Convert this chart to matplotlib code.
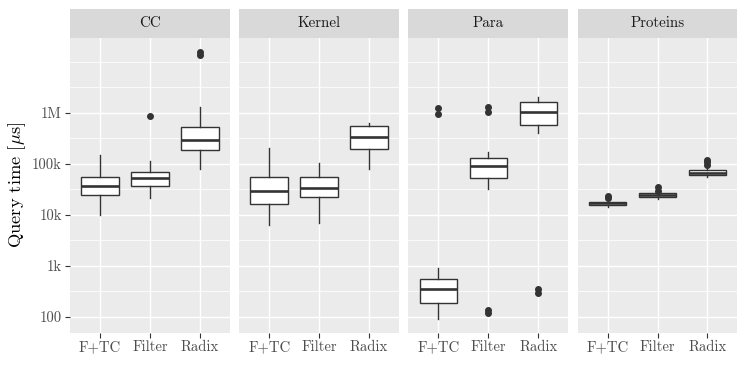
import numpy as np
import matplotlib
matplotlib.use('Agg')
import matplotlib.pyplot as plt
from matplotlib.ticker import FixedLocator, NullFormatter

# Facets and methods
panels = ['CC', 'Kernel', 'Para', 'Proteins']
methods = ['F+TC', 'Filter', 'Radix']

# Box statistics per panel (F+TC, Filter, Radix), query time in microseconds
whisker_lo = [[10e3, 22e3, 79e3], [6.3e3, 7.1e3, 81e3], [91, 33e3, 410e3], [14.2e3, 20.6e3, 55e3]]
quart_lo = [[24.5e3, 37e3, 187e3], [16.7e3, 22.5e3, 201e3], [186, 53e3, 592e3], [15.7e3, 22.9e3, 62e3]]
medians = [[37.6e3, 52e3, 296e3], [29.5e3, 34e3, 343e3], [360, 90e3, 1.06e6], [16.9e3, 24.7e3, 67e3]]
quart_hi = [[56e3, 71e3, 540e3], [56e3, 55e3, 556e3], [550, 133e3, 1.66e6], [18.2e3, 26.6e3, 77e3]]
whisker_hi = [[150e3, 116e3, 1.3e6], [203e3, 103e3, 645e3], [900, 174e3, 2.09e6], [19.5e3, 28e3, 83e3]]

# Outliers
outliers = [
    [[], [890e3], [15.9e6, 13.8e6]],
    [[], [], []],
    [[1.24e6, 0.97e6], [1.29e6, 1.05e6, 138, 121], [347, 302]],
    [[24.1e3, 21.1e3], [34.6e3, 30.2e3], [122e3, 107e3, 95e3]],
]

y_breaks = [1e2, 1e3, 1e4, 1e5, 1e6]
y_labels = ['100', '1k', '10k', '100k', '1M']

plt.rcParams['font.family'] = ['cmr10', 'DejaVu Serif']
plt.rcParams['mathtext.fontset'] = 'cm'
plt.rcParams['axes.unicode_minus'] = False
plt.rcParams['axes.formatter.use_mathtext'] = True

W, H = 747, 386
fig = plt.figure(figsize=(W / 100, H / 100), dpi=100)

panel_left = [70, 239.2, 408.4, 577.6]
panel_w = 159.8
top_px, bottom_px, strip_top = 37.7, 332.7, 9.3

dark = '#333333'
for k, name in enumerate(panels):
    x0 = panel_left[k]
    ax = fig.add_axes([x0 / W, 1 - bottom_px / H, panel_w / W, (bottom_px - top_px) / H])
    ax.set_facecolor('#EBEBEB')
    for s in ax.spines.values():
        s.set_visible(False)

    stats = []
    for j in range(3):
        stats.append(dict(med=medians[k][j], q1=quart_lo[k][j], q3=quart_hi[k][j],
                          whislo=whisker_lo[k][j], whishi=whisker_hi[k][j],
                          fliers=outliers[k][j]))
    ax.bxp(stats, positions=[1, 2, 3], widths=0.75, patch_artist=True,
           showcaps=False, manage_ticks=False,
           boxprops=dict(facecolor='white', edgecolor=dark, linewidth=1.0),
           medianprops=dict(color=dark, linewidth=1.9, solid_capstyle='butt'),
           whiskerprops=dict(color=dark, linewidth=1.0),
           flierprops=dict(marker='o', markersize=4, markerfacecolor=dark,
                           markeredgecolor=dark))

    ax.set_yscale('log')
    ax.set_ylim(10 ** 1.692, 10 ** 7.476)
    ax.set_xlim(0.4, 3.6)

    ax.set_xticks([1, 2, 3])
    ax.set_xticklabels(methods)
    ax.yaxis.set_major_locator(FixedLocator(y_breaks))
    ax.yaxis.set_minor_locator(FixedLocator([10 ** e for e in np.arange(1.5, 7.01, 0.5)]))
    ax.yaxis.set_minor_formatter(NullFormatter())
    if k == 0:
        ax.set_yticklabels(y_labels)
        ax.tick_params(axis='y', which='major', length=3.8, width=0.8, color=dark,
                       labelcolor='#4D4D4D', labelsize=10.6, pad=2)
    else:
        ax.tick_params(axis='y', which='major', length=0, labelleft=False)
    ax.tick_params(axis='y', which='minor', length=0)
    ax.tick_params(axis='x', length=3.8, width=0.8, color=dark,
                   labelcolor='#4D4D4D', labelsize=10.6, pad=2)

    ax.set_axisbelow(True)
    ax.grid(which='major', color='white', linewidth=1.07)
    ax.grid(which='minor', axis='y', color='white', linewidth=0.55)

    # strip on top of panel
    sax = fig.add_axes([x0 / W, 1 - top_px / H, panel_w / W, (top_px - strip_top) / H])
    sax.set_facecolor('#D9D9D9')
    sax.set_xticks([])
    sax.set_yticks([])
    for s in sax.spines.values():
        s.set_visible(False)
    sax.text(0.5, 0.5, name, ha='center', va='center', fontsize=10.8,
             color='#1A1A1A', transform=sax.transAxes)

fig.text(17 / W, 1 - 185.2 / H, r'Query time [$\mu$s]', rotation=90,
         ha='center', va='center', fontsize=13.3, color='black')

fig.savefig('out.png', dpi=100)
